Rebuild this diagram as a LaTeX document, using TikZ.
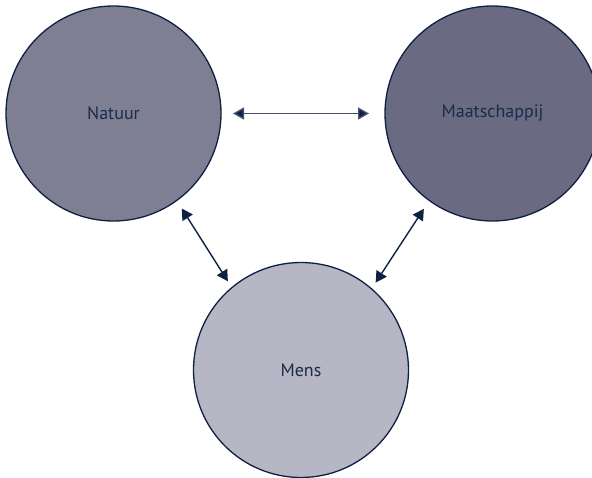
\documentclass[tikz,border=0pt]{standalone}
\usepackage{fontspec}
\setmainfont{PT Sans}
\usetikzlibrary{arrows.meta}
\definecolor{navy}{HTML}{0D2142}
\definecolor{txt}{HTML}{1B2B4B}
\definecolor{cNat}{HTML}{7F7F94}
\definecolor{cMaa}{HTML}{6A6A82}
\definecolor{cMen}{HTML}{B6B6C4}
\definecolor{hline}{HTML}{44536B}
\tikzset{
  bubble/.style={circle, draw=navy, line width=1.3pt, minimum size=215pt, inner sep=0pt, outer sep=0pt, text=txt, font=\fontsize{18}{21}\selectfont},
  link/.style={{Triangle[length=11pt,width=12pt]}-{Triangle[length=11pt,width=12pt]}, draw=navy, line width=1.4pt},
}
\begin{document}
\begin{tikzpicture}[x=1pt,y=-1pt]
\useasboundingbox (0,0) rectangle (592,478);
\node[bubble, fill=cNat] (nat) at (113.5,113.5) {Natuur};
\node[bubble, fill=cMaa] (maa) at (492.5,113.5) {Maatschappij};
\node[bubble, fill=cMen] (men) at (301,370) {Mens};
\draw[link, draw=hline, {Triangle[length=11pt,width=12pt,fill=navy]}-{Triangle[length=11pt,width=12pt,fill=navy]}, shorten <=12pt, shorten >=16pt] (nat.east) -- (maa.west);
\draw[link, shorten <=9.5pt, shorten >=7.5pt] (nat.-54.7) -- (men.130.8);
\draw[link, shorten <=10pt, shorten >=7.5pt] (maa.-126.5) -- (men.49.2);
\end{tikzpicture}
\end{document}
